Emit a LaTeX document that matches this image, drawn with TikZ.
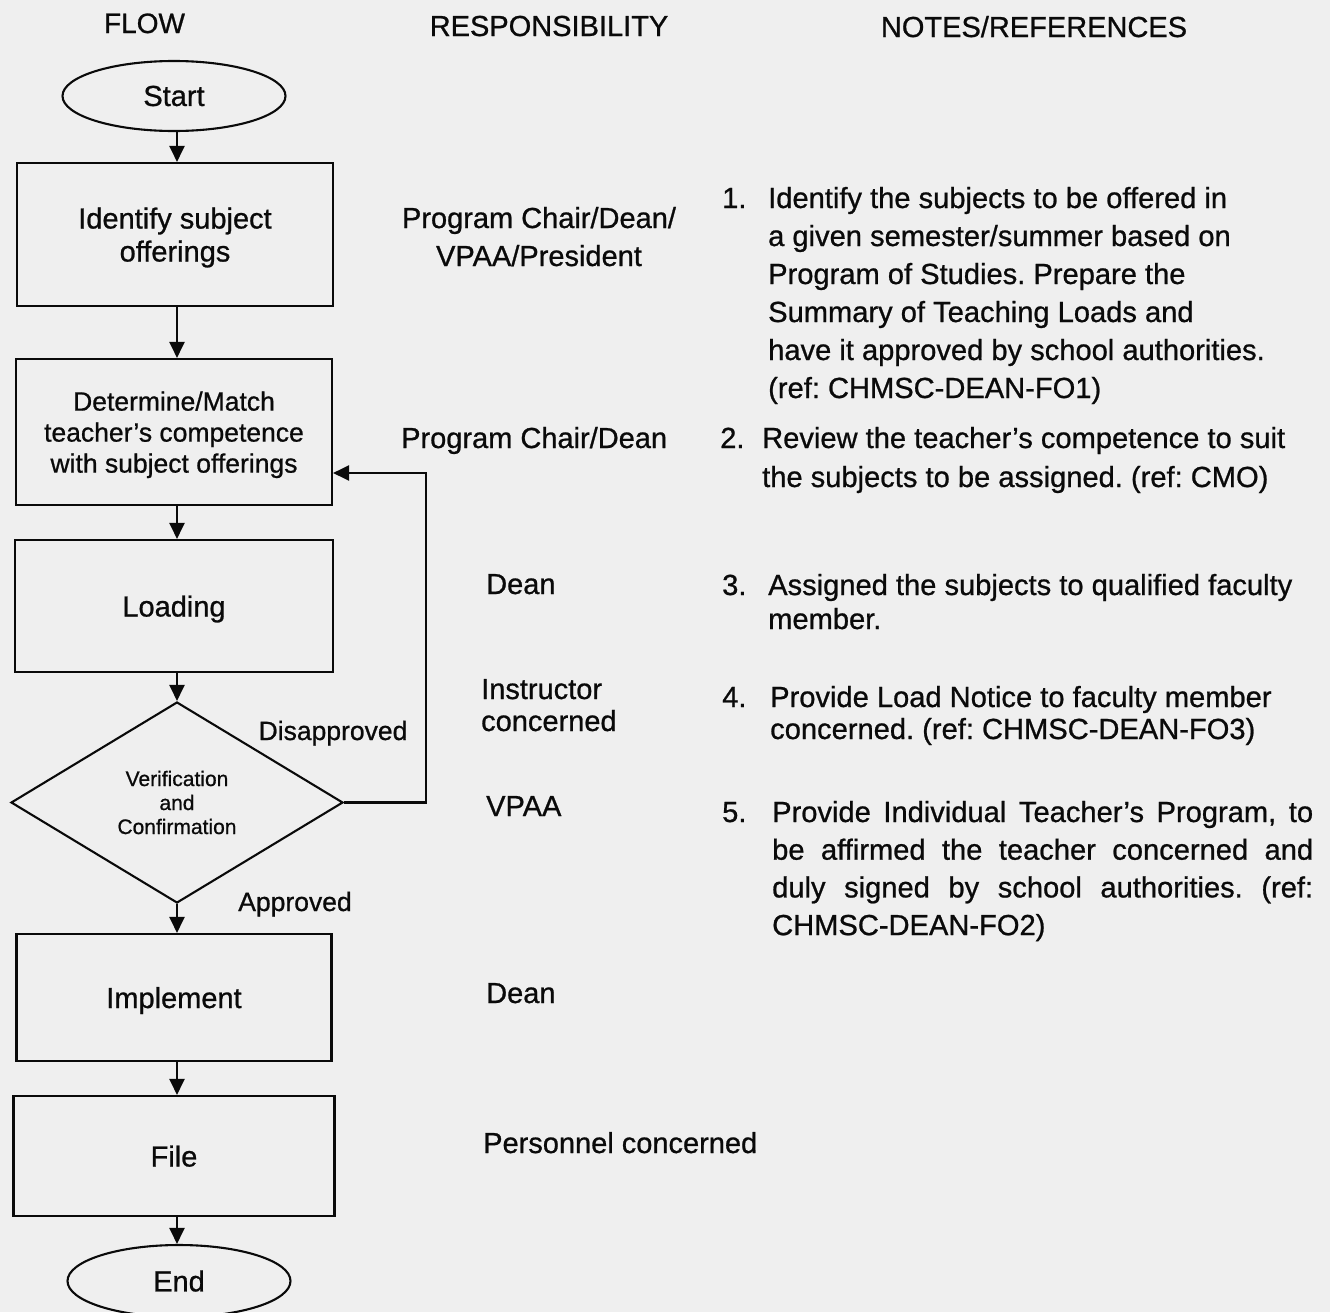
\documentclass[tikz,border=0pt]{standalone}
\usepackage{fontspec}
\setmainfont{Liberation Sans}[RawFeature={embolden=0.8}]
\usetikzlibrary{shapes.geometric,arrows.meta}
\definecolor{paper}{RGB}{239,239,239}
\definecolor{ink}{RGB}{10,10,10}
\frenchspacing
\begin{document}
\begin{tikzpicture}[x=1pt,y=-1pt,
  every node/.style={text=ink},
  proc/.style={draw=ink, line width=2.1pt, inner sep=0pt, align=center, text depth=0pt, font=\fontsize{29}{33}\selectfont},
  term/.style={draw=ink, ellipse, line width=2.1pt, inner sep=0pt, font=\fontsize{29}{33}\selectfont},
  dec/.style={draw=ink, diamond, line width=2.1pt, inner sep=0pt, align=center, font=\fontsize{21}{24}\selectfont},
  flow/.style={draw=ink, line width=2.1pt, -{Triangle[length=16pt,width=15pt]}},
  head/.style={anchor=base, inner sep=0pt, font=\fontsize{29}{32}\selectfont},
  lbl/.style={anchor=base, inner sep=0pt, font=\fontsize{26.5}{30}\selectfont},
  resp/.style={anchor=base west, inner sep=0pt, font=\fontsize{29}{32}\selectfont},
  num/.style={anchor=base west, inner sep=0pt, font=\fontsize{29.1}{38}\selectfont}
]
\useasboundingbox (0,0) rectangle (1330,1312);
\fill[paper] (0,0) rectangle (1330,1312);

% headers
\node[head, font=\fontsize{28}{32}\selectfont] (hflow) at (144.5,33) {FLOW};
\node[head] (hresp) at (549,36) {RESPONSIBILITY};
\node[head] (hnotes) at (1034,37) {NOTES/REFERENCES};

% flow chart
\node[term, minimum width=223pt, minimum height=70pt] (start) at (174,96) {Start};
\node[proc, minimum width=316pt, minimum height=143pt] (b1) at (175,234.5) {Identify subject\\offerings};
\node[proc, minimum width=316pt, minimum height=146pt, font=\fontsize{26.5}{31}\selectfont] (b2) at (174,432) {Determine/Match\\teacher’s competence\\with subject offerings};
\node[proc, minimum width=318pt, minimum height=132pt] (b3) at (174,606) {Loading};
\node[dec, minimum width=332pt, minimum height=201pt] (dia) at (177,802.5) {Verification\\and\\Confirmation};
\node[proc, minimum width=315pt, minimum height=127pt] (b4) at (174,997.5) {Implement};
\node[proc, minimum width=321pt, minimum height=120pt] (b5) at (174,1156) {File};
\node[term, minimum width=223pt, minimum height=72pt] (stop) at (179,1281) {End};

\coordinate (ax) at (177,0);
\draw[flow] (start.south -| ax) -- (b1.north -| ax);
\draw[flow] (b1.south -| ax) -- (b2.north -| ax);
\draw[flow] (b2.south -| ax) -- (b3.north -| ax);
\draw[flow] (b3.south -| dia.north) -- (dia.north);
\draw[flow] (dia.south) -- (b4.north -| dia.south);
\draw[flow] (b4.south -| ax) -- (b5.north -| ax);
\draw[flow] (b5.south -| ax) -- (stop.north -| ax);
\coordinate (fb) at (426,473);
\draw[flow] (dia.east) -| (fb) -- (fb -| b2.east);

\node[lbl] (ldis) at (333,740) {Disapproved};
\node[lbl] (lapp) at (295,911) {Approved};

% responsibility
\node[anchor=base, inner sep=0pt, align=center, font=\fontsize{29}{38}\selectfont] (r1) at (539,228) {\parbox[t]{300pt}{\centering Program Chair/Dean/\\VPAA/President}};
\node[resp] (r2) at (401,448) {Program Chair/Dean};
\node[resp] (r3) at (486,594) {Dean};
\node[resp, font=\fontsize{29}{32}\selectfont] (r4) at (481,699) {\parbox[t]{200pt}{Instructor\\concerned}};
\node[resp] (r5) at (486,816) {VPAA};
\node[resp] (r6) at (486,1003) {Dean};
\node[resp] (r7) at (483,1153) {Personnel concerned};

% notes
\node[num] (k1) at (722,208) {1.};
\node[num] (t1) at (768,208) {\parbox[t]{560pt}{Identify the subjects to be offered in\\a given semester/summer based on\\Program of Studies. Prepare the\\Summary of Teaching Loads and\\have it approved by school authorities.\\(ref: CHMSC-DEAN-FO1)}};
\node[num] (k2) at (720,448) {2.};
\node[num, font=\fontsize{29.1}{39}\selectfont] (t2) at (762,448) {\parbox[t]{560pt}{Review the teacher’s competence to suit\\the subjects to be assigned. (ref: CMO)}};
\node[num] (k3) at (722,595) {3.};
\node[num, font=\fontsize{29.1}{34}\selectfont] (t3) at (768,595) {\parbox[t]{560pt}{Assigned the subjects to qualified faculty\\member.}};
\node[num] (k4) at (722,707) {4.};
\node[num, font=\fontsize{29.1}{32}\selectfont] (t4) at (770,707) {\parbox[t]{560pt}{Provide Load Notice to faculty member\\concerned. (ref: CHMSC-DEAN-FO3)}};
\node[num] (k5) at (722,822) {5.};
\node[num, font=\fontsize{29.1}{37.7}\selectfont] (t5) at (772,822) {\parbox[t]{560pt}{\makebox[541pt][s]{Provide Individual Teacher’s Program, to}\\\makebox[541pt][s]{be affirmed the teacher concerned and}\\\makebox[541pt][s]{duly signed by school authorities. (ref:}\\CHMSC-DEAN-FO2)}};
\end{tikzpicture}
\end{document}
